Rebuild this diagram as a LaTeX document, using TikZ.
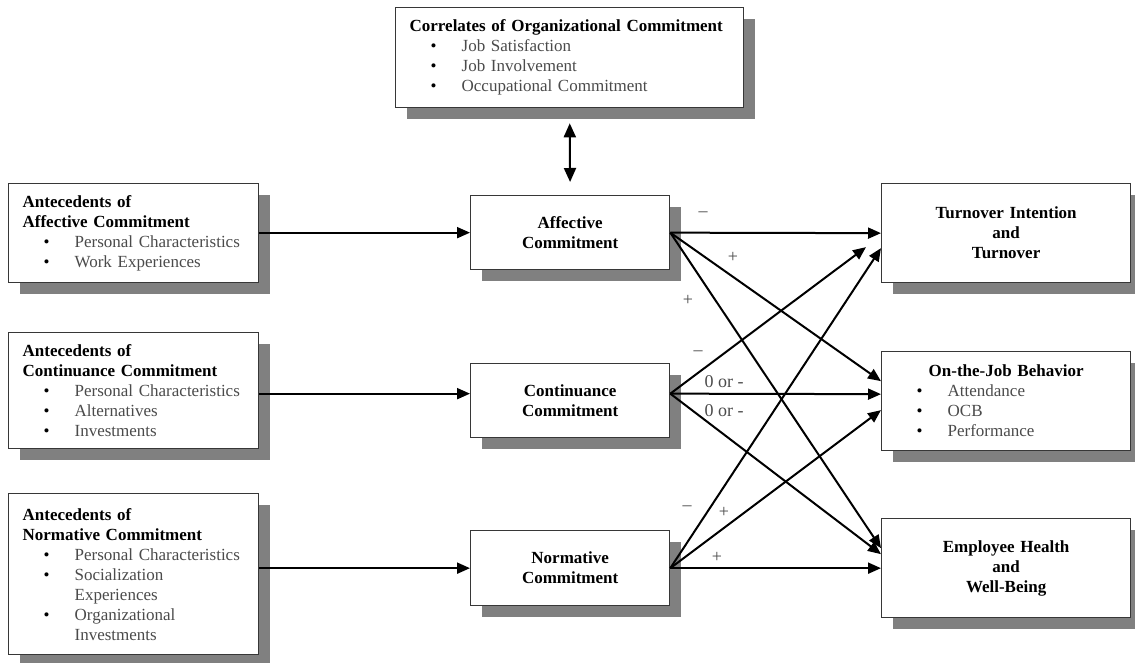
\documentclass[tikz,border=0pt]{standalone}
\usepackage{fontspec}
\setmainfont{Liberation Serif}
\usepackage{tikz}
\usetikzlibrary{shadows}
\usetikzlibrary{arrows.meta}

\definecolor{itemgray}{RGB}{75,75,75}
\definecolor{boxline}{RGB}{55,55,55}
\definecolor{shadowgray}{RGB}{128,128,128}
\newcommand{\bitem}[1]{\hspace*{21pt}\makebox[6pt]{\textbullet}\hspace*{25pt}{\color{itemgray}#1}}
\newcommand{\bmore}[1]{\hspace*{52pt}{\color{itemgray}#1}}

\begin{document}
\begin{tikzpicture}[x=1pt, y=-1pt,
    box/.style={draw=boxline, line width=1.3pt, fill=white, anchor=north west,
        inner xsep=14pt, inner ysep=0pt, font=\fontsize{17}{20}\selectfont,
        drop shadow={shadow xshift=11pt, shadow yshift=-11pt, fill=shadowgray, opacity=1}},
    listbox/.style={box, align=left},
    midbox/.style={box, align=center, font=\fontsize{17}{20}\selectfont\bfseries},
    link/.style={line width=2pt, -{Triangle[length=13pt,width=11pt]}},
    sign/.style={font=\fontsize{18}{20}\selectfont, text=itemgray, inner sep=0pt}]
    \useasboundingbox (0,0) rectangle (1135,662);

    \node[listbox, text width=320pt, minimum height=100pt] (corr) at (395,7) {
        \textbf{Correlates of Organizational Commitment}\\
        \bitem{Job Satisfaction}\\
        \bitem{Job Involvement}\\
        \bitem{Occupational Commitment}};

    \node[listbox, text width=222pt, minimum height=99pt] (antA) at (8,183) {
        \textbf{Antecedents of}\\
        \textbf{Affective Commitment}\\
        \bitem{Personal Characteristics}\\
        \bitem{Work Experiences}};
    \node[listbox, text width=222pt, minimum height=116pt] (antC) at (8,332) {
        \textbf{Antecedents of}\\
        \textbf{Continuance Commitment}\\
        \bitem{Personal Characteristics}\\
        \bitem{Alternatives}\\
        \bitem{Investments}};
    \node[listbox, text width=222pt, minimum height=161pt] (antN) at (8,493) {
        \textbf{Antecedents of}\\
        \textbf{Normative Commitment}\\
        \bitem{Personal Characteristics}\\
        \bitem{Socialization}\\
        \bmore{Experiences}\\
        \bitem{Organizational}\\
        \bmore{Investments}};

    \node[midbox, text width=171pt, minimum height=74pt] (aff) at (470,195) {Affective\\Commitment};
    \node[midbox, text width=171pt, minimum height=74pt] (con) at (470,363) {Continuance\\Commitment};
    \node[midbox, text width=171pt, minimum height=75pt] (nor) at (470,530) {Normative\\Commitment};

    \node[midbox, text width=221pt, minimum height=99pt] (tot) at (881,183) {Turnover Intention\\and\\Turnover};
    \node[listbox, text width=221pt, minimum height=99pt] (ojb) at (881,351) {
        \makebox[221pt]{\textbf{On-the-Job Behavior}}\\
        \bitem{Attendance}\\
        \bitem{OCB}\\
        \bitem{Performance}};
    \node[midbox, text width=221pt, minimum height=99pt] (hlth) at (881,518) {Employee Health\\and\\Well-Being};

    \coordinate (conin) at ([yshift=7pt]con.west);
    \coordinate (conout) at ([yshift=7pt]con.east);

    \draw[line width=2pt, {Triangle[length=14pt,width=12pt]}-{Triangle[length=14pt,width=12pt]},
        shorten <=15pt, shorten >=13pt] (corr.south) -- (aff.north);

    \draw[link] (antA.east |- aff.west) -- (aff.west);
    \draw[link] (antC.east |- conin) -- (conin);
    \draw[link] (antN.east |- nor.west) -- (nor.west);

    \draw[link] (aff.east) -- (tot.west);
    \draw[link] (aff.east) -- ([yshift=20pt]ojb.west);
    \draw[link] (aff.east) -- ([yshift=20pt]hlth.west);
    \draw[link] (conout) -- ([xshift=-15pt,yshift=-14pt]tot.west);
    \draw[link] (conout) -- ([yshift=7pt]ojb.west);
    \draw[link] (conout) -- ([yshift=14pt]hlth.west);
    \draw[link] (nor.east) -- ([yshift=-15pt]tot.west);
    \draw[link] (nor.east) -- ([yshift=-9pt]ojb.west);
    \draw[link] (nor.east) -- (hlth.west);

    \node[sign] (affTot) at (703,214) {–};
    \node[sign] (affOjb) at (733,257) {+};
    \node[sign] (affHlth) at (688,300) {+};
    \node[sign] (conTot) at (698,353) {–};
    \node[sign] (conOjb) at (724,382) {0 or -};
    \node[sign] (conHlth) at (724,411) {0 or -};
    \node[sign] (norTot) at (687,508) {–};
    \node[sign] (norOjb) at (724,512) {+};
    \node[sign] (norHlth) at (717,557) {+};
\end{tikzpicture}
\end{document}
